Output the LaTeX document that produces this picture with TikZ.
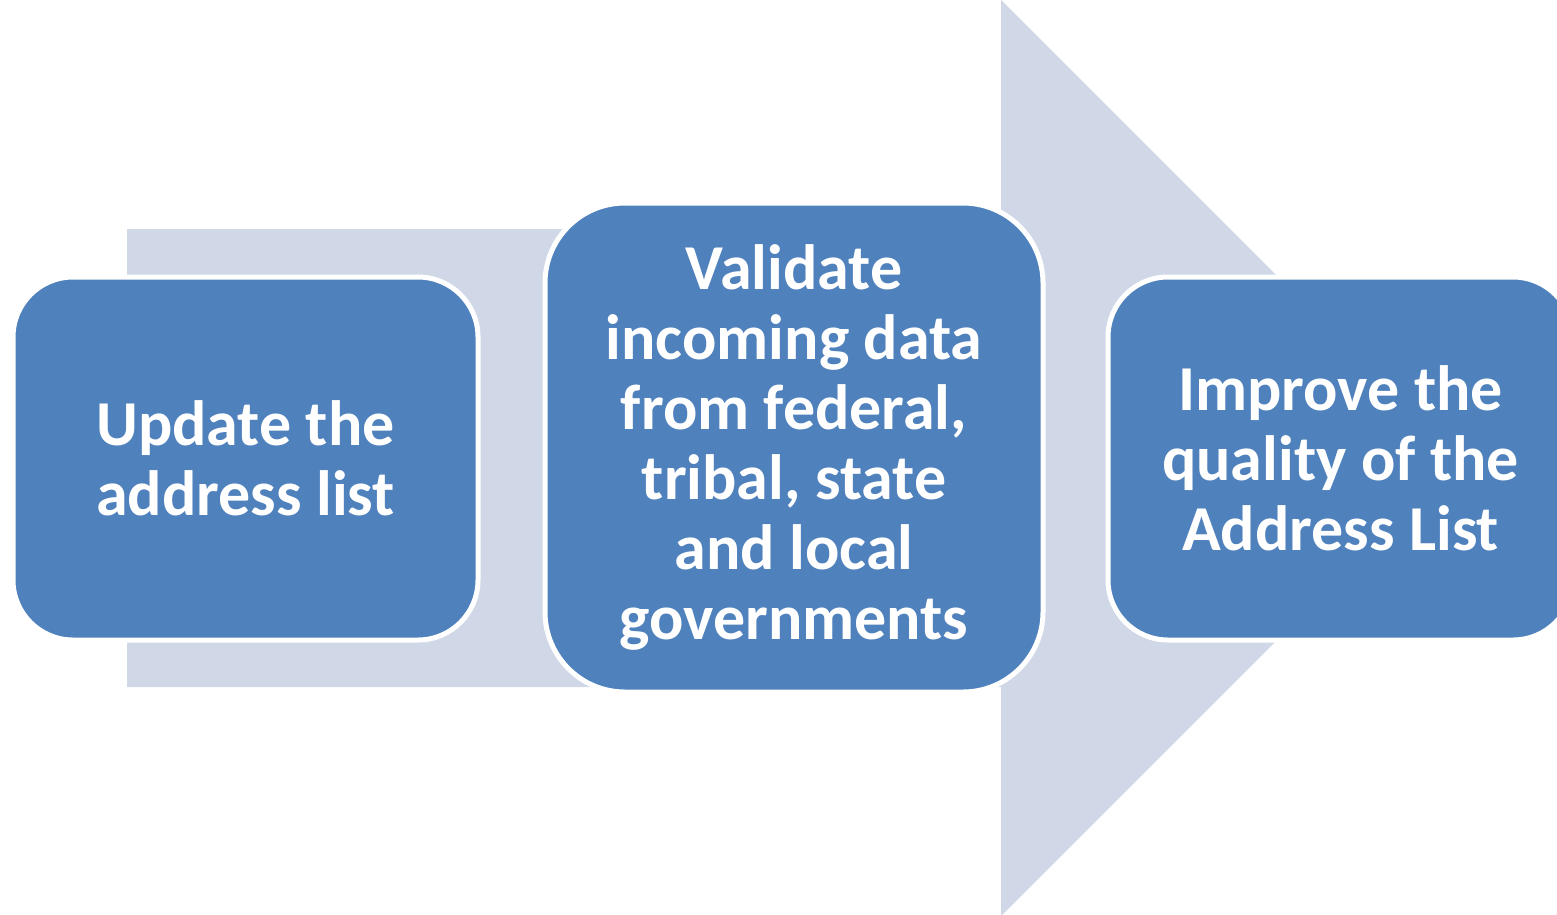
\documentclass[tikz,border=0pt]{standalone}
\usepackage{fontspec}
\setmainfont{Carlito}
\definecolor{boxblue}{HTML}{4F81BD}
\definecolor{arrowgray}{HTML}{D0D8E8}
\begin{document}
\begin{tikzpicture}[x=1pt,y=-1pt,
    stepbox/.style={draw=white,line width=5pt,fill=boxblue,text=white,align=center,inner sep=0pt,
        font=\fontsize{64}{70}\selectfont\bfseries}]
    \useasboundingbox (0,0) rectangle (1557,914);
    % Arrow %
    \fill[arrowgray] (127,229) -- (1001,229) -- (1001,0) -- (1459,458) -- (1001,916) -- (1001,687) -- (127,687) -- cycle;

    % Steps %
    \node[stepbox,rounded corners=60pt,minimum width=465pt,minimum height=363pt] (update) at (245.5,458.5) {Update the\\address list};
    \node[stepbox,rounded corners=80pt,minimum width=498pt,minimum height=489pt] (validate) at (794,447.5)
        {Validate\\incoming data\\from federal,\\tribal, state\\and local\\governments};
    \node[stepbox,rounded corners=60pt,minimum width=465pt,minimum height=363pt] (improve) at (1340.5,458.5) {Improve the\\quality of the\\Address List};
\end{tikzpicture}
\end{document}
